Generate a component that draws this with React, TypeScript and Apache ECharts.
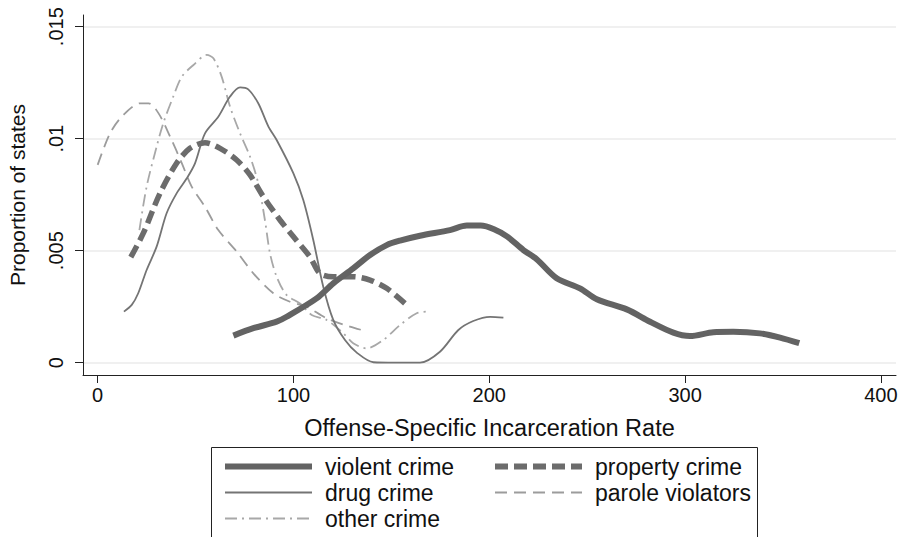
import React, { useEffect, useRef } from "react";
import * as echarts from "echarts";

const xTicks = [0, 100, 200, 300, 400];
const yTicks = [0, 0.005, 0.01, 0.015];
const yTickLabels = ["0", ".005", ".01", ".015"];

const violentX = [69.3, 79.5, 91.4, 96.5, 111.8, 120.3, 130.5, 139.1, 147.6, 154.4, 164.6, 179.9, 188.5, 195.6, 202.4, 209.2, 217.4, 224.2, 234.4, 246.3, 254.9, 270.2, 282.1, 294, 302.5, 314.4, 324.6, 338.2, 348.5, 358.3];
const violentY = [0.00121, 0.00154, 0.00183, 0.00205, 0.00287, 0.00354, 0.00421, 0.00481, 0.00525, 0.00545, 0.00567, 0.00592, 0.00612, 0.00612, 0.00596, 0.00563, 0.00503, 0.00462, 0.00377, 0.00332, 0.00283, 0.00238, 0.00183, 0.00134, 0.00119, 0.00136, 0.00138, 0.00131, 0.00112, 0.00087];

const propertyX = [16.9, 23.3, 31.8, 40.3, 47.1, 54.8, 62.5, 71, 77.8, 84.6, 93.1, 99.9, 108.4, 113.5, 120.3, 130.5, 139.1, 147.6, 156.9];
const propertyY = [0.00471, 0.00578, 0.00756, 0.0089, 0.00957, 0.00982, 0.00957, 0.00905, 0.00838, 0.00741, 0.00637, 0.00563, 0.00473, 0.00399, 0.00384, 0.00384, 0.00369, 0.00332, 0.00265];

const drugX = [13.4, 17.4, 20.7, 25, 30.1, 35.2, 40.3, 45.5, 49.7, 54.8, 61.6, 67.6, 72.7, 76.9, 82, 87.2, 91.4, 99.9, 105, 110.1, 115.2, 120.3, 126.3, 132.3, 140.8, 152, 164.6, 174.8, 184.2, 191.8, 200.4, 207.2];
const drugY = [0.00228, 0.00258, 0.0031, 0.00414, 0.00518, 0.00667, 0.00756, 0.00823, 0.0089, 0.01024, 0.01098, 0.01188, 0.01229, 0.0122, 0.01158, 0.01054, 0.00994, 0.00846, 0.00726, 0.00548, 0.00339, 0.00191, 0.00101, 0.00045, 0.00002, 0, 0, 0.00049, 0.00146, 0.00186, 0.00205, 0.00201];

const paroleX = [0, 6.3, 13.1, 21.8, 26, 31.1, 37, 43, 48, 54.8, 61.6, 71, 79.5, 89.7, 98.2, 106.7, 116.9, 128.8, 137.4];
const paroleY = [0.00883, 0.01024, 0.01106, 0.01158, 0.01158, 0.01113, 0.01009, 0.0089, 0.00786, 0.00696, 0.00592, 0.00496, 0.00399, 0.0031, 0.00272, 0.0025, 0.00198, 0.00161, 0.0014];

const otherX = [21.3, 25, 30.1, 33.5, 38.6, 43, 48.9, 55.7, 59.1, 63.3, 67.6, 72.7, 77.8, 82, 85.4, 88, 91.4, 96.5, 103.3, 109.3, 116.9, 125.5, 130.5, 137.3, 145.8, 154.4, 162.9, 168.8];
const otherY = [0.00592, 0.00786, 0.00964, 0.01069, 0.01188, 0.01277, 0.01329, 0.01374, 0.01359, 0.01277, 0.01143, 0.01024, 0.0092, 0.00801, 0.00637, 0.00488, 0.00384, 0.00302, 0.00265, 0.00213, 0.00191, 0.00131, 0.00087, 0.00064, 0.00101, 0.00168, 0.00221, 0.00228];

const zip = (xs: number[], ys: number[]) => xs.map((x, i) => [x, ys[i]]);

const FONT = "'Liberation Sans', Arial, Helvetica, sans-serif";

export default function App() {
  const ref = useRef<HTMLDivElement>(null);
  useEffect(() => {
    if (!ref.current) return;
    const chart = echarts.init(ref.current, null, { renderer: "svg" });

    const mk = (name: string, xs: number[], ys: number[], color: string, width: number, type: any, z: number) => ({
      name,
      type: "line",
      data: zip(xs, ys),
      smooth: 0.3,
      symbol: "circle",
      symbolSize: 0,
      showSymbol: false,
      z,
      lineStyle: { color, width, type, cap: "butt" },
      itemStyle: { color, opacity: 0 },
    });

    const dashProp = [13, 6];
    const dashParole = [12, 7];
    const dashOther = [12, 5, 2, 5];

    const legendText = { fontSize: 23, fontFamily: FONT, color: "#111", padding: [0, 0, 0, 8] };
    const hidden = { opacity: 0, color: "transparent", borderWidth: 0 };

    chart.setOption({
      animation: false,
      backgroundColor: "#fff",
      grid: { left: 83, right: 6, top: 15, bottom: 162, outerBoundsMode: "none", containLabel: false },
      xAxis: {
        type: "value",
        min: -7.5,
        max: 407.7,
        name: "Offense-Specific Incarceration Rate",
        nameLocation: "middle",
        nameGap: 41,
        nameTextStyle: { fontSize: 23.5, fontFamily: FONT, color: "#111" },
        axisLine: { show: true, onZero: false, lineStyle: { color: "#222", width: 1 } },
        axisTick: { show: true, length: 8, customValues: xTicks, lineStyle: { color: "#222", width: 1 } },
        axisLabel: { customValues: xTicks, fontSize: 20, fontFamily: FONT, color: "#111", margin: 10 },
        splitLine: { show: false },
      },
      yAxis: {
        type: "value",
        min: -0.000549,
        max: 0.015522,
        name: "Proportion of states",
        nameLocation: "middle",
        nameGap: 55,
        nameRotate: 90,
        nameTextStyle: { fontSize: 21, fontFamily: FONT, color: "#111" },
        axisLine: { show: true, onZero: false, lineStyle: { color: "#222", width: 1 } },
        axisTick: { show: true, length: 8, customValues: yTicks, lineStyle: { color: "#222", width: 1 } },
        axisLabel: {
          customValues: yTicks,
          rotate: 90,
          margin: 17,
          fontSize: 20,
          fontFamily: FONT,
          color: "#111",
          formatter: (v: number) => {
            let best = 0;
            yTicks.forEach((t, i) => {
              if (Math.abs(t - v) < Math.abs(yTicks[best] - v)) best = i;
            });
            return yTickLabels[best];
          },
        },
        splitLine: { show: true, lineStyle: { color: "#ebebeb", width: 1.5 } },
      },
      legend: [
        {
          orient: "vertical",
          left: 222,
          top: 455,
          padding: 0,
          itemWidth: 87,
          itemHeight: 26,
          itemGap: 3,
          selectedMode: false,
          textStyle: legendText,
          data: [
            { name: "violent crime", itemStyle: hidden, lineStyle: { width: 6, type: "solid" } },
            { name: "drug crime", itemStyle: hidden, lineStyle: { width: 2, type: "solid" } },
            { name: "other crime", itemStyle: hidden, lineStyle: { width: 2, type: dashOther } },
          ],
        },
        {
          orient: "vertical",
          left: 492,
          top: 455,
          padding: 0,
          itemWidth: 87,
          itemHeight: 26,
          itemGap: 3,
          selectedMode: false,
          textStyle: legendText,
          data: [
            { name: "property crime", itemStyle: hidden, lineStyle: { width: 6, type: dashProp } },
            { name: "parole violators", itemStyle: hidden, lineStyle: { width: 2, type: dashParole } },
          ],
        },
      ],
      graphic: [
        {
          type: "rect",
          shape: { x: 211.5, y: 447.5, width: 546, height: 130 },
          style: { fill: "none", stroke: "#222", lineWidth: 1 },
          silent: true,
        },
      ],
      series: [
        mk("other crime", otherX, otherY, "#a8a8a8", 1.8, dashOther, 2),
        mk("parole violators", paroleX, paroleY, "#9c9c9c", 1.8, dashParole, 3),
        mk("drug crime", drugX, drugY, "#747474", 1.8, "solid", 4),
        mk("property crime", propertyX, propertyY, "#6c6c6c", 5.5, dashProp, 5),
        mk("violent crime", violentX, violentY, "#636363", 6, "solid", 6),
      ],
    });
    return () => chart.dispose();
  }, []);
  return (
    <div
      ref={ref}
      style={{ position: "fixed", left: 0, top: 0, width: 902, height: 537, background: "#fff" }}
    />
  );
}
